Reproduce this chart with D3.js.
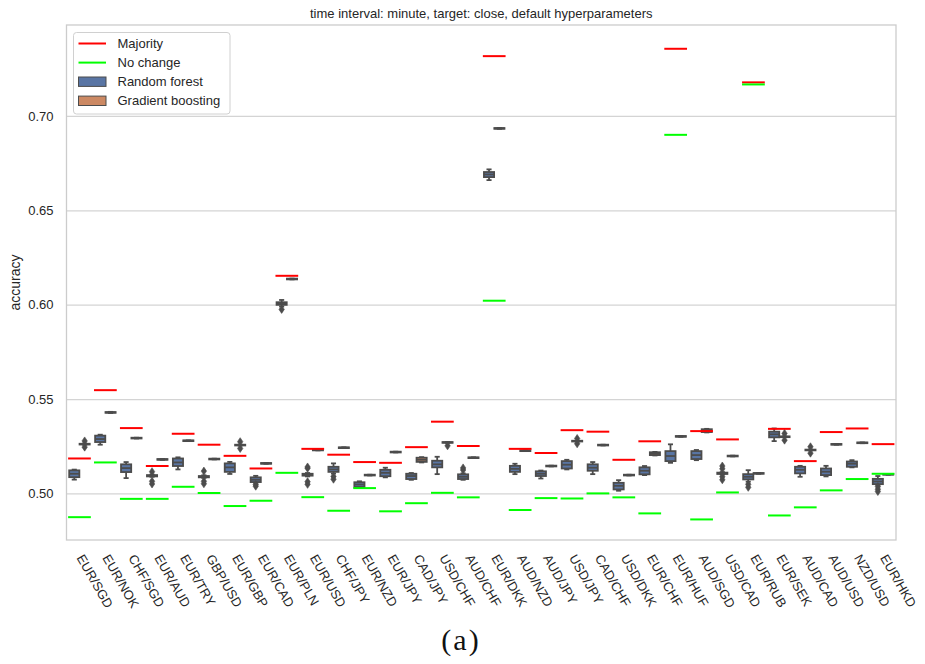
<!DOCTYPE html>
<html>
<head>
<meta charset="utf-8">
<script src="https://cdn.jsdelivr.net/npm/d3@7"></script>
<style>
  html, body { margin: 0; padding: 0; background: #ffffff; }
  svg { display: block; font-family: "Liberation Sans", Arial, Helvetica, sans-serif; }
</style>
</head>
<body>
<svg id="chart" width="925" height="664"></svg>
<script>
// Currency pairs on the x axis
const categories = ["EUR/SGD","EUR/NOK","CHF/SGD","EUR/AUD","EUR/TRY","GBP/USD","EUR/GBP","EUR/CAD",
  "EUR/PLN","EUR/USD","CHF/JPY","EUR/NZD","EUR/JPY","CAD/JPY","USD/CHF","AUD/CHF","EUR/DKK","AUD/NZD",
  "AUD/JPY","USD/JPY","CAD/CHF","USD/DKK","EUR/CHF","EUR/HUF","AUD/SGD","USD/CAD","EUR/RUB","EUR/SEK",
  "AUD/CAD","AUD/USD","NZD/USD","EUR/HKD"];

const models = ["Random forest", "Gradient boosting"];

// Baselines
const majority = [0.5185,0.5547,0.5346,0.5145,0.5316,0.5258,0.5199,0.5132,0.6153,0.5236,0.5205,0.5166,
  0.5162,0.5245,0.5380,0.5251,0.7317,0.5236,0.5214,0.5335,0.5327,0.5178,0.5276,0.7356,0.5330,0.5286,
  0.7178,0.5342,0.5171,0.5325,0.5344,0.5261];
const noChange = [0.4874,0.5164,0.4971,0.4971,0.5035,0.5002,0.4933,0.4961,0.5109,0.4980,0.4908,0.5028,
  0.4905,0.4948,0.5003,0.4979,0.6021,0.4912,0.4975,0.4973,0.5000,0.4979,0.4894,0.6900,0.4862,0.5005,
  0.7167,0.4883,0.4926,0.5016,0.5076,0.5104];

// Random forest box statistics
const rfLow    = [0.5073,0.5258,0.5081,0.5088,0.5127,0.5082,0.5103,0.5056,0.5990,0.5090,0.5105,0.5030,
  0.5085,0.5072,0.5102,0.5072,0.6660,0.5102,0.5079,0.5127,0.5102,0.5014,0.5097,0.5162,0.5176,0.5100,
  0.5062,0.5277,0.5088,0.5090,0.5138,0.5045];
const rfQ1     = [0.5086,0.5272,0.5113,0.5090,0.5145,0.5085,0.5114,0.5060,0.5999,0.5094,0.5114,0.5034,
  0.5091,0.5076,0.5138,0.5076,0.6676,0.5114,0.5092,0.5132,0.5120,0.5021,0.5101,0.5171,0.5182,0.5103,
  0.5074,0.5297,0.5106,0.5097,0.5141,0.5049];
const rfMedian = [0.5104,0.5288,0.5134,0.5093,0.5164,0.5088,0.5138,0.5072,0.6006,0.5099,0.5127,0.5047,
  0.5109,0.5092,0.5154,0.5088,0.6690,0.5130,0.5104,0.5152,0.5136,0.5040,0.5120,0.5198,0.5203,0.5106,
  0.5088,0.5313,0.5125,0.5115,0.5157,0.5063];
const rfQ3     = [0.5122,0.5306,0.5154,0.5097,0.5185,0.5092,0.5159,0.5085,0.6013,0.5104,0.5141,0.5059,
  0.5125,0.5104,0.5173,0.5101,0.6703,0.5146,0.5117,0.5171,0.5154,0.5056,0.5138,0.5224,0.5224,0.5110,
  0.5102,0.5327,0.5141,0.5132,0.5169,0.5077];
const rfHigh   = [0.5126,0.5311,0.5166,0.5100,0.5191,0.5096,0.5167,0.5093,0.6025,0.5108,0.5159,0.5064,
  0.5136,0.5108,0.5194,0.5106,0.6717,0.5157,0.5121,0.5178,0.5166,0.5070,0.5145,0.5260,0.5230,0.5113,
  0.5123,0.5344,0.5146,0.5146,0.5176,0.5092];
const rfFliers = [[],[],[],[0.5115,0.5064,0.5050],[],[0.5118,0.5064,0.5051],[],[0.5047,0.5038],
  [0.5975],[0.5140,0.5133,0.5062,0.5048],[0.5090,0.5075],[],[],[],[],[0.5135,0.5124],
  [],[],[],[],[],[],[],[],[],[0.5145,0.5130,0.5088,0.5072],
  [0.5048,0.5032],[],[],[],[],[0.5036,0.5022,0.5010]];

// Gradient boosting box statistics
const gbLow    = [0.5258,0.5426,0.5291,0.5178,0.5277,0.5180,0.5254,0.5157,0.6134,0.5228,0.5240,0.5095,
  0.5217,0.5164,0.5268,0.5187,0.6932,0.5224,0.5143,0.5275,0.5254,0.5095,0.5201,0.5300,0.5323,0.5196,
  0.5104,0.5298,0.5228,0.5258,0.5266,0.5099];
const gbQ1     = [0.5259,0.5427,0.5291,0.5178,0.5277,0.5180,0.5254,0.5157,0.6134,0.5228,0.5240,0.5095,
  0.5217,0.5167,0.5268,0.5187,0.6932,0.5224,0.5143,0.5275,0.5254,0.5095,0.5203,0.5300,0.5325,0.5196,
  0.5104,0.5298,0.5228,0.5258,0.5266,0.5099];
const gbMedian = [0.5261,0.5429,0.5293,0.5180,0.5279,0.5182,0.5256,0.5159,0.6136,0.5230,0.5242,0.5097,
  0.5219,0.5178,0.5270,0.5189,0.6934,0.5226,0.5145,0.5277,0.5256,0.5097,0.5210,0.5302,0.5333,0.5198,
  0.5106,0.5300,0.5230,0.5260,0.5268,0.5101];
const gbQ3     = [0.5263,0.5431,0.5295,0.5182,0.5281,0.5184,0.5258,0.5161,0.6138,0.5232,0.5244,0.5099,
  0.5221,0.5189,0.5272,0.5191,0.6936,0.5228,0.5147,0.5279,0.5258,0.5099,0.5218,0.5304,0.5340,0.5200,
  0.5108,0.5302,0.5232,0.5262,0.5270,0.5103];
const gbHigh   = [0.5264,0.5432,0.5295,0.5182,0.5281,0.5184,0.5258,0.5161,0.6138,0.5232,0.5244,0.5099,
  0.5221,0.5192,0.5272,0.5191,0.6936,0.5228,0.5147,0.5279,0.5258,0.5099,0.5220,0.5304,0.5342,0.5200,
  0.5108,0.5302,0.5232,0.5262,0.5270,0.5103];
const gbFliers = [[0.5278,0.5245],[],[],[],[],[],[0.5274,0.5238],[],
  [],[],[],[],[],[],[0.5252],[],
  [],[],[],[0.5291,0.5263],[],[],[],[],
  [],[],[],[0.5318,0.5282],[0.5247,0.5213],[],[],[]];

const yTicks = [0.50, 0.55, 0.60, 0.65, 0.70];

const titleText = "time interval: minute, target: close, default hyperparameters";
const yLabel = "accuracy";
const panelLabel = "(a)";

// ---------------------------------------------------------------
const svg = d3.select("#chart");
const plot = { left: 66.5, right: 896, top: 25, bottom: 540 };
const textColor = "#262626";
const gridColor = "#d4d4d4";
const edgeGray = "#4c4c4c";
const lineW = 1.8;
const boxColors = { "Random forest": "#5975a4", "Gradient boosting": "#cc8963" };

svg.append("rect").attr("width", 925).attr("height", 664).attr("fill", "#ffffff");

const x = d3.scaleBand().domain(categories).range([plot.left, plot.right]).padding(0);
const bw = x.bandwidth();
const hue = d3.scaleBand().domain(models).range([bw * 0.1, bw * 0.9]).padding(0);
const y = d3.scaleLinear().domain([0.4753, 0.7482]).range([plot.bottom, plot.top]);

// horizontal grid
svg.append("g")
  .attr("transform", `translate(${plot.left},0)`)
  .call(d3.axisLeft(y).tickValues(yTicks).tickSize(-(plot.right - plot.left)).tickFormat(""))
  .call(g => g.select(".domain").remove())
  .call(g => g.selectAll("line").attr("stroke", gridColor).attr("stroke-width", 1.2));

// y tick labels
svg.append("g")
  .attr("transform", `translate(${plot.left},0)`)
  .call(d3.axisLeft(y).tickValues(yTicks).tickSize(0).tickPadding(13).tickFormat(d3.format(".2f")))
  .call(g => g.select(".domain").remove())
  .call(g => g.selectAll("text")
    .attr("fill", textColor)
    .style("font-size", "13px")
    .style("font-family", "'Liberation Sans', Arial, sans-serif"));

// x tick labels (rotated)
svg.append("g").selectAll("text")
  .data(categories)
  .join("text")
  .attr("transform", d => `translate(${x(d) + bw / 2 + 5},${plot.bottom + 13}) rotate(60)`)
  .attr("text-anchor", "start")
  .attr("dominant-baseline", "hanging")
  .attr("fill", textColor)
  .style("font-size", "13px")
  .text(d => d);

// box plots
const flierPath = "M0,-4L2.7,0L0,4L-2.7,0Z";
const series = [
  { model: "Random forest", low: rfLow, q1: rfQ1, med: rfMedian, q3: rfQ3, high: rfHigh, fliers: rfFliers },
  { model: "Gradient boosting", low: gbLow, q1: gbQ1, med: gbMedian, q3: gbQ3, high: gbHigh, fliers: gbFliers }
];
const boxLayer = svg.append("g");
series.forEach(s => {
  const w = hue.bandwidth() * 0.98;
  categories.forEach((cat, i) => {
    const cx = x(cat) + hue(s.model) + hue.bandwidth() / 2;
    const g = boxLayer.append("g")
      .attr("stroke", edgeGray).attr("stroke-width", lineW);
    // whiskers
    g.append("line").attr("x1", cx).attr("x2", cx).attr("y1", y(s.q3[i])).attr("y2", y(s.high[i]));
    g.append("line").attr("x1", cx).attr("x2", cx).attr("y1", y(s.q1[i])).attr("y2", y(s.low[i]));
    // caps
    [s.low[i], s.high[i]].forEach(v => {
      g.append("line").attr("x1", cx - w / 4).attr("x2", cx + w / 4).attr("y1", y(v)).attr("y2", y(v));
    });
    // box
    g.append("rect")
      .attr("x", cx - w / 2).attr("width", w)
      .attr("y", y(s.q3[i])).attr("height", Math.max(0, y(s.q1[i]) - y(s.q3[i])))
      .attr("fill", boxColors[s.model]);
    // median
    g.append("line").attr("x1", cx - w / 2).attr("x2", cx + w / 2)
      .attr("y1", y(s.med[i])).attr("y2", y(s.med[i]));
    // outliers
    g.selectAll("path").data(s.fliers[i]).join("path")
      .attr("d", flierPath)
      .attr("transform", v => `translate(${cx},${y(v)})`)
      .attr("fill", edgeGray).attr("stroke-width", 0.6);
  });
});

// baseline segments
const baselines = [
  { name: "Majority", values: majority, color: "#ff0000" },
  { name: "No change", values: noChange, color: "#00ff00" }
];
baselines.forEach(b => {
  svg.append("g").selectAll("line")
    .data(categories)
    .join("line")
    .attr("x1", d => x(d) + bw * 0.1)
    .attr("x2", d => x(d) + bw * 0.9)
    .attr("y1", (d, i) => y(b.values[i]))
    .attr("y2", (d, i) => y(b.values[i]))
    .attr("stroke", b.color)
    .attr("stroke-width", 2)
    .attr("stroke-linecap", "square");
});

// frame
svg.append("rect")
  .attr("x", plot.left).attr("y", plot.top)
  .attr("width", plot.right - plot.left).attr("height", plot.bottom - plot.top)
  .attr("fill", "none").attr("stroke", "#cccccc").attr("stroke-width", 1.3);

// title and axis label
svg.append("text")
  .attr("x", (plot.left + plot.right) / 2).attr("y", 18)
  .attr("text-anchor", "middle").attr("fill", textColor)
  .style("font-size", "13px")
  .text(titleText);

svg.append("text")
  .attr("transform", `translate(19.5,${(plot.top + plot.bottom) / 2}) rotate(-90)`)
  .attr("text-anchor", "middle").attr("fill", textColor)
  .style("font-size", "14px")
  .text(yLabel);

// legend
const legend = svg.append("g").attr("transform", "translate(73.5,32.5)");
legend.append("rect")
  .attr("width", 156.5).attr("height", 81.5).attr("rx", 3)
  .attr("fill", "#ffffff").attr("fill-opacity", 0.8)
  .attr("stroke", "#d0d0d0").attr("stroke-width", 1);
const legendItems = [
  { label: "Majority", kind: "line", color: "#ff0000" },
  { label: "No change", kind: "line", color: "#00ff00" },
  { label: "Random forest", kind: "patch", color: boxColors["Random forest"] },
  { label: "Gradient boosting", kind: "patch", color: boxColors["Gradient boosting"] }
];
legendItems.forEach((it, k) => {
  const cy = 11 + k * 19.1;
  if (it.kind === "line") {
    legend.append("line").attr("x1", 5).attr("x2", 32.5).attr("y1", cy).attr("y2", cy)
      .attr("stroke", it.color).attr("stroke-width", 2);
  } else {
    legend.append("rect").attr("x", 5).attr("y", cy - 4.7).attr("width", 27.5).attr("height", 9.4)
      .attr("fill", it.color).attr("stroke", edgeGray).attr("stroke-width", 1);
  }
  legend.append("text").attr("x", 44).attr("y", cy).attr("dy", "0.35em")
    .attr("fill", textColor).style("font-size", "13px").text(it.label);
});

// panel label
svg.append("text")
  .attr("x", 461).attr("y", 650)
  .attr("text-anchor", "middle").attr("fill", "#111111")
  .style("font-family", "'Liberation Serif', 'DejaVu Serif', serif")
  .style("font-size", "30px")
  .style("letter-spacing", "2px")
  .text(panelLabel);
</script>
</body>
</html>
